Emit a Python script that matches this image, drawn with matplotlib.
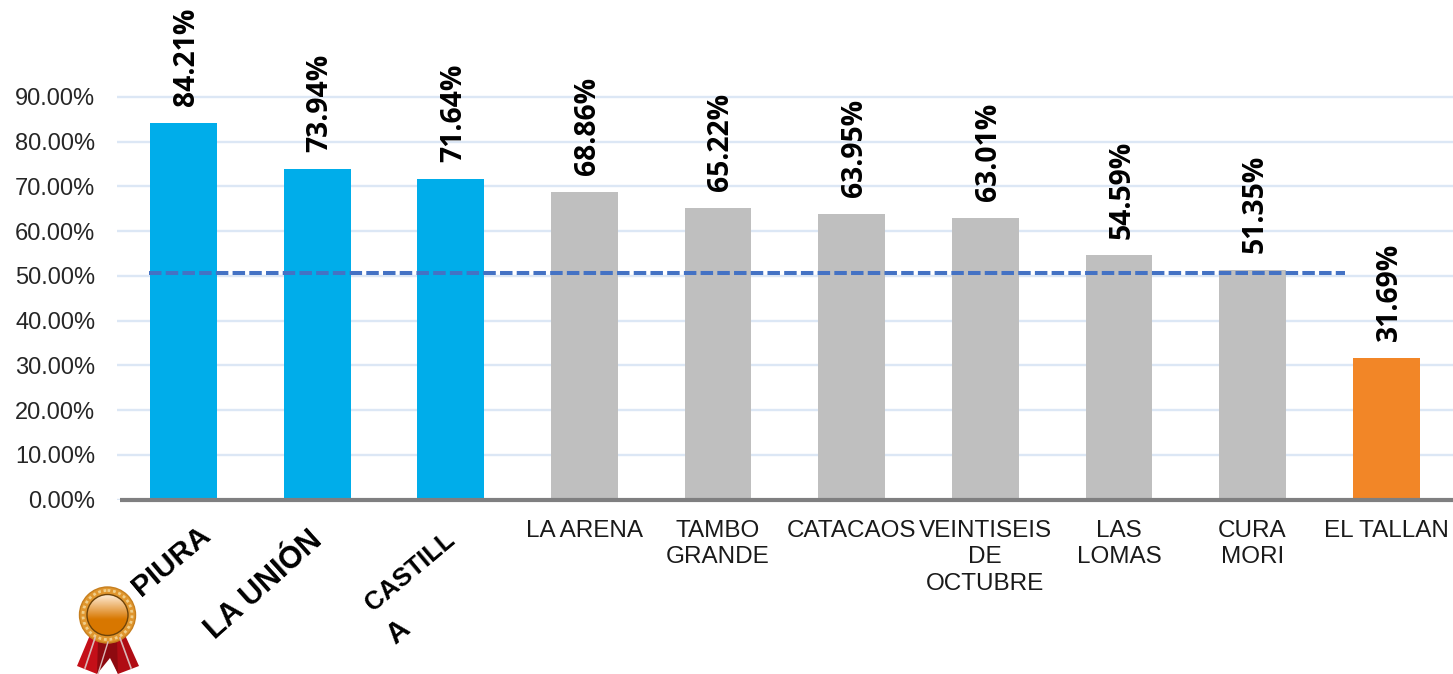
import numpy as np
import matplotlib
matplotlib.use("Agg")
import matplotlib.pyplot as plt
from matplotlib.patches import Circle, Polygon

plt.rcParams['font.family'] = ['Liberation Sans', 'DejaVu Sans']

categories = ["PIURA", "LA UNIÓN", "CASTILLA", "LA ARENA", "TAMBO\nGRANDE", "CATACAOS",
              "VEINTISEIS\nDE\nOCTUBRE", "LAS\nLOMAS", "CURA\nMORI", "EL TALLAN"]
values = [84.21, 73.94, 71.64, 68.86, 65.22, 63.95, 63.01, 54.59, 51.35, 31.69]
bar_colors = ["#00ADEA"]*3 + ["#BFBFBF"]*6 + ["#F28627"]
average = 50.7
yticks = [0, 10, 20, 30, 40, 50, 60, 70, 80, 90]

W, H = 1453, 674
fig = plt.figure(figsize=(W/100, H/100), dpi=100)
left, base = 116.7, 499.7
ax = fig.add_axes([left/W, (H-base)/H, (W-left)/W, base/H])

x = np.arange(len(values))
ax.bar(x, values, width=0.5, color=bar_colors, zorder=2)
ax.plot([-0.26, 8.69], [average, average], color="#4472C4", lw=2.9,
        dashes=(3.1, 1.05), dash_capstyle="butt", zorder=3)

ax.set_xlim(-0.5, len(values)-0.5)
ax.set_ylim(0, base/4.475)
ax.set_yticks(yticks)
ax.set_yticklabels(["%.2f%%" % v for v in yticks], fontsize=17, color="#262626")
ax.set_xticks([])
ax.tick_params(axis="y", length=0, pad=15.5)
ax.grid(axis="y", color="#DCE7F5", lw=1.7, zorder=0)
ax.set_axisbelow(True)
for s in ["top", "right", "left"]:
    ax.spines[s].set_visible(False)
ax.spines["bottom"].set_color("#7F7F80")
ax.spines["bottom"].set_linewidth(3)
ax.spines["bottom"].set_capstyle("butt")
ax.spines["bottom"].set_bounds(-0.478, len(values)-0.5)

# etiquetas de valores
for xi, v in zip(x, values):
    ax.annotate("%.2f%%" % v, (xi, v), xytext=(2, 12), textcoords="offset points",
                rotation=90, ha="center", va="bottom", fontsize=20.3, fontweight="bold",
                family=["Open Sans", "DejaVu Sans"], color="black", annotation_clip=False)

# etiquetas del eje x
def px(xp, yp):
    return xp/W, 1 - yp/H

for xi, c in list(zip(x, categories))[3:]:
    ax.annotate(c, (xi, 0), xytext=(0, -14.5), textcoords="offset points", ha="center",
                va="top", fontsize=17.5, color="#1a1a1a", linespacing=1.27,
                annotation_clip=False)

fig.text(*px(171, 561), "PIURA", rotation=40, ha="center", va="center", fontsize=21.5,
         fontweight="bold", rotation_mode="anchor")
fig.text(*px(264, 585), "LA UNIÓN", rotation=42, ha="center", va="center", fontsize=22,
         fontweight="bold", rotation_mode="anchor")
fig.text(*px(410, 572), "CASTILL", rotation=40, ha="center", va="center", fontsize=18.5,
         fontweight="bold", rotation_mode="anchor")
fig.text(*px(398, 632), "A", rotation=40, ha="center", va="center", fontsize=21,
         fontweight="bold", rotation_mode="anchor")

# medalla
m = fig.add_axes([0, 0, 1, 1], zorder=5)
m.axis("off")
m.patch.set_alpha(0)
for pts, col in [([(90, 635), (77, 666), (97, 674), (112, 640)], "#C40F18"),
                 ([(125, 635), (139, 666), (118, 674), (104, 640)], "#B00C14"),
                 ([(98, 640), (117, 640), (118, 674), (110, 658), (97, 674)], "#8E0A10")]:
    m.add_patch(Polygon(pts, closed=True, fc=col, ec="none"))
m.plot([95, 85], [638, 668], color="#D9B8B8", lw=1.2)
m.plot([120, 131], [638, 668], color="#D9B8B8", lw=1.2)
m.plot([108, 98], [642, 674], color="#D9B8B8", lw=1)
m.add_patch(Circle((107.5, 615), 28, fc="#E0962E", ec="#C77F1E", lw=1))
m.add_patch(Circle((107.5, 615), 24.5, fill=False, ec="#F0CE8A", lw=2, ls=(0, (1, 1))))
grad = np.linspace(0, 1, 60).reshape(-1, 1, 1)
top, bottom = np.array([1.0, 0.93, 0.85]), np.array([0.85, 0.47, 0.0])
img = np.clip(top + (bottom-top)*np.minimum(grad*1.7, 1), 0, 1)
im = m.imshow(img, extent=(86, 129, 637, 594), aspect="auto", zorder=3)
im.set_clip_path(Circle((107.5, 615), 20.5, transform=m.transData))
m.set_xlim(0, W)
m.set_ylim(H, 0)
m.add_patch(Circle((107.5, 615), 20.5, fill=False, ec="#6E4308", lw=1, zorder=4))

fig.savefig("out.png", dpi=100)
